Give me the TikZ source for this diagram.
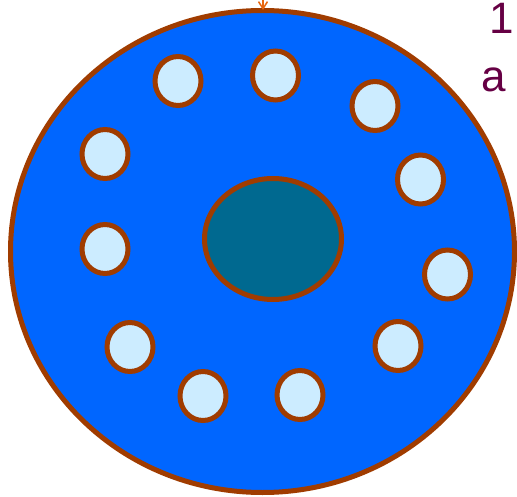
\documentclass[tikz,border=0pt]{standalone}
\usepackage{fontspec}
\setmainfont{Liberation Sans}
\usetikzlibrary{shapes.geometric,arrows.meta}
\definecolor{diskblue}{HTML}{0066FF}
\definecolor{rimbrown}{HTML}{A03C00}
\definecolor{holefill}{HTML}{CCECFF}
\definecolor{hubfill}{HTML}{006990}
\definecolor{arroworange}{HTML}{E8660E}
\definecolor{textpurple}{HTML}{660044}
\begin{document}
\begin{tikzpicture}[x=1pt,y=1pt,
  disk/.style={ellipse,draw=rimbrown,fill=diskblue,line width=5pt,inner sep=0pt,minimum width=504pt,minimum height=482pt},
  hub/.style={ellipse,draw=rimbrown,fill=hubfill,line width=5pt,inner sep=0pt,minimum width=137pt,minimum height=121pt},
  hole/.style={ellipse,draw=rimbrown,fill=holefill,line width=5pt,inner sep=0pt,minimum width=46pt,minimum height=49pt},
  lbl/.style={text=textpurple,font=\fontsize{44}{50}\selectfont,inner sep=0pt,anchor=base,text height=31pt,text depth=0pt}]
\useasboundingbox (0,0) rectangle (517,-497);
\node[disk] (disk) at (262.5,-251.5) {};
\node[hub] (hub) at (273,-239) {};
\node[hole] (h1) at (178,-81) {};
\node[hole] (h2) at (275.5,-75.5) {};
\node[hole] (h3) at (375,-106) {};
\node[hole] (h4) at (420.5,-179.5) {};
\node[hole] (h5) at (447.5,-274.5) {};
\node[hole] (h6) at (398,-346) {};
\node[hole] (h7) at (300,-395) {};
\node[hole] (h8) at (203,-396) {};
\node[hole] (h9) at (130,-347) {};
\node[hole] (h10) at (105,-249) {};
\node[hole] (h11) at (105,-154) {};
\coordinate (top) at (263,0);
\coordinate (tip) at (263,-10);
\draw[arroworange,line width=1.5pt,-{Straight Barb[length=7pt,width=9pt,line width=1.5pt]}] (top) -- (tip);
\node[lbl] (t1) at (501.5,-33.5) {1};
\node[lbl] (ta) at (493.5,-92) {a};
\end{tikzpicture}
\end{document}
